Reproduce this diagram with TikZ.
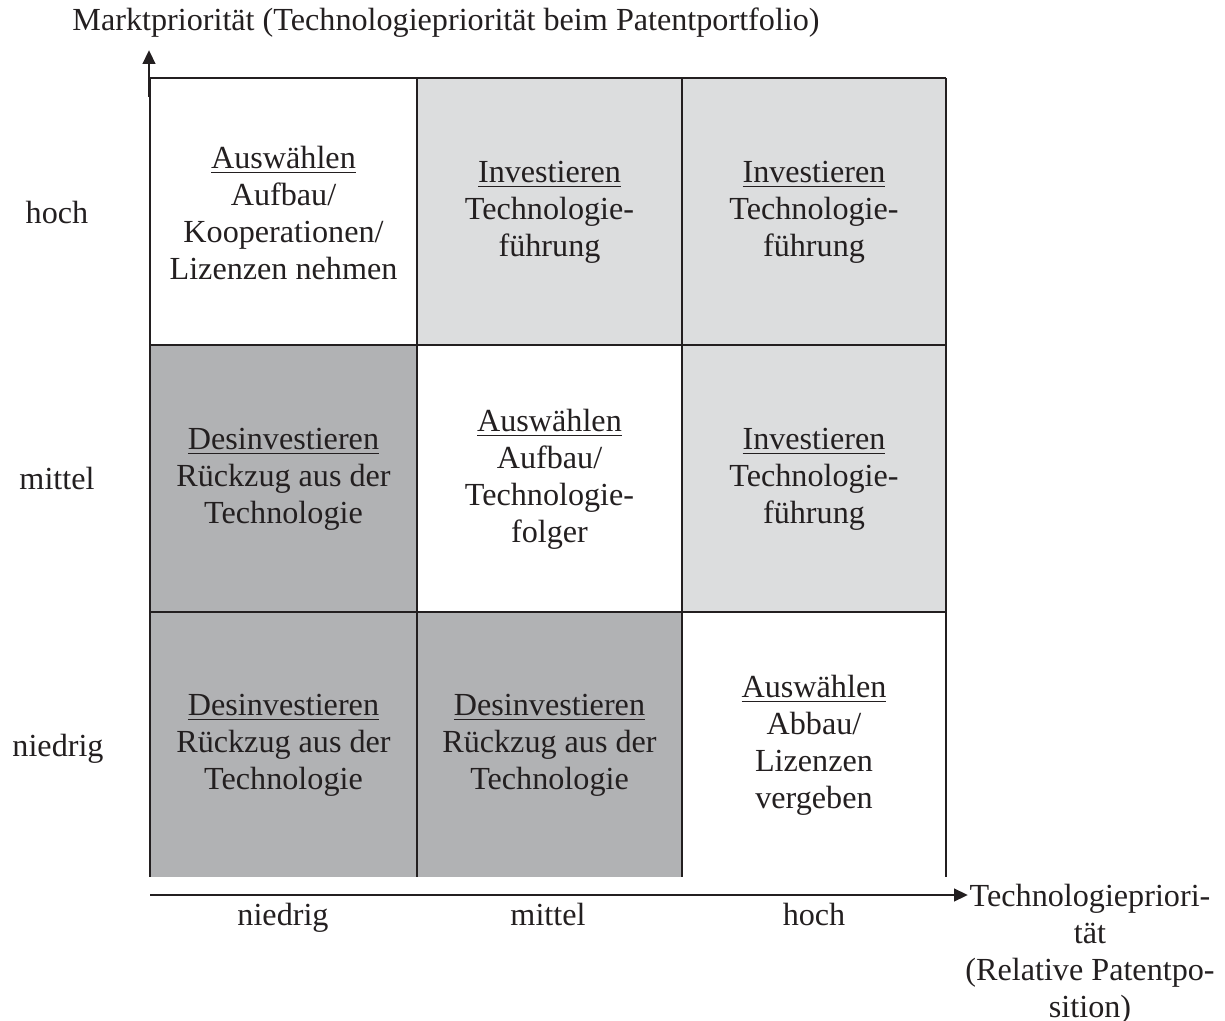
\documentclass[tikz,border=0pt]{standalone}
\usepackage{fontspec}
\setmainfont{Liberation Serif}
\usetikzlibrary{arrows.meta}

\definecolor{hell}{HTML}{DCDDDE}
\definecolor{dunkel}{HTML}{B1B2B4}
\definecolor{linie}{HTML}{231F20}

\tikzset{
	feld/.style={align=center, inner sep=0pt, text=linie, font=\fontsize{12}{13.8}\selectfont},
	achse/.style={draw=linie, line width=1.1pt, -{Triangle[length=5.2pt,width=4.6pt]}},
}

\begin{document}
\begin{tikzpicture}[x=0.3731pt, y=-0.3731pt, line width=1.1pt]
	\useasboundingbox (0, 0) rectangle (1225, 1021);
	
	\fill[hell] (417, 78) rectangle (946, 345); % oben Mitte und rechts
	\fill[hell] (682, 345) rectangle (946, 612);
	\fill[dunkel] (150, 345) rectangle (417, 877);
	\fill[dunkel] (417, 612) rectangle (682, 877);
	
	\draw[linie] (150, 78) -- (946, 78);
	\draw[linie] (150, 345) -- (946, 345);
	\draw[linie] (150, 612) -- (946, 612);
	\draw[linie] (150, 78) -- (150, 877);
	\draw[linie] (417, 78) -- (417, 877);
	\draw[linie] (682, 78) -- (682, 877);
	\draw[linie] (946, 78) -- (946, 877);
	
	\coordinate (yfuss) at (149, 97);
	\coordinate (yspitze) at (149, 50);
	\coordinate (xfuss) at (150, 895);
	\coordinate (xspitze) at (968, 895);
	\draw[achse] (yfuss) -- (yspitze); % Marktprioritaet
	\draw[achse] (xfuss) -- (xspitze); % Technologieprioritaet
	
	\node[feld, anchor=base] (ytitel) at (446, 31) {Marktpriorität (Technologiepriorität beim Patentportfolio)};
	\node[feld, anchor=north] (xtitel) at (1090, 883) {Technologiepriori-\\tät\\(Relative Patentpo-\\sition)};
	
	\node[feld, anchor=base] (yhoch) at (57, 224) {hoch};
	\node[feld, anchor=base] (ymittel) at (57, 490) {mittel};
	\node[feld, anchor=base] (yniedrig) at (58, 756) {niedrig};
	\node[feld, anchor=base] (xniedrig) at (283, 925) {niedrig};
	\node[feld, anchor=base] (xmittel) at (548, 925) {mittel};
	\node[feld, anchor=base] (xhoch) at (814, 925) {hoch};
	
	\node[feld] (f11) at (283.5, 213) {\underline{Auswählen}\\Aufbau/\\Kooperationen/\\Lizenzen nehmen};
	\node[feld] (f12) at (549.5, 212.5) {\underline{Investieren}\\Technologie-\\führung};
	\node[feld] (f13) at (814, 212.5) {\underline{Investieren}\\Technologie-\\führung};
	\node[feld] (f21) at (283.5, 479) {\underline{Desinvestieren}\\Rückzug aus der\\Technologie};
	\node[feld] (f22) at (549.5, 479) {\underline{Auswählen}\\Aufbau/\\Technologie-\\folger};
	\node[feld] (f23) at (814, 479) {\underline{Investieren}\\Technologie-\\führung};
	\node[feld] (f31) at (283.5, 745) {\underline{Desinvestieren}\\Rückzug aus der\\Technologie};
	\node[feld] (f32) at (549.5, 745) {\underline{Desinvestieren}\\Rückzug aus der\\Technologie};
	\node[feld] (f33) at (814, 745) {\underline{Auswählen}\\Abbau/\\Lizenzen\\vergeben};
\end{tikzpicture}
\end{document}
